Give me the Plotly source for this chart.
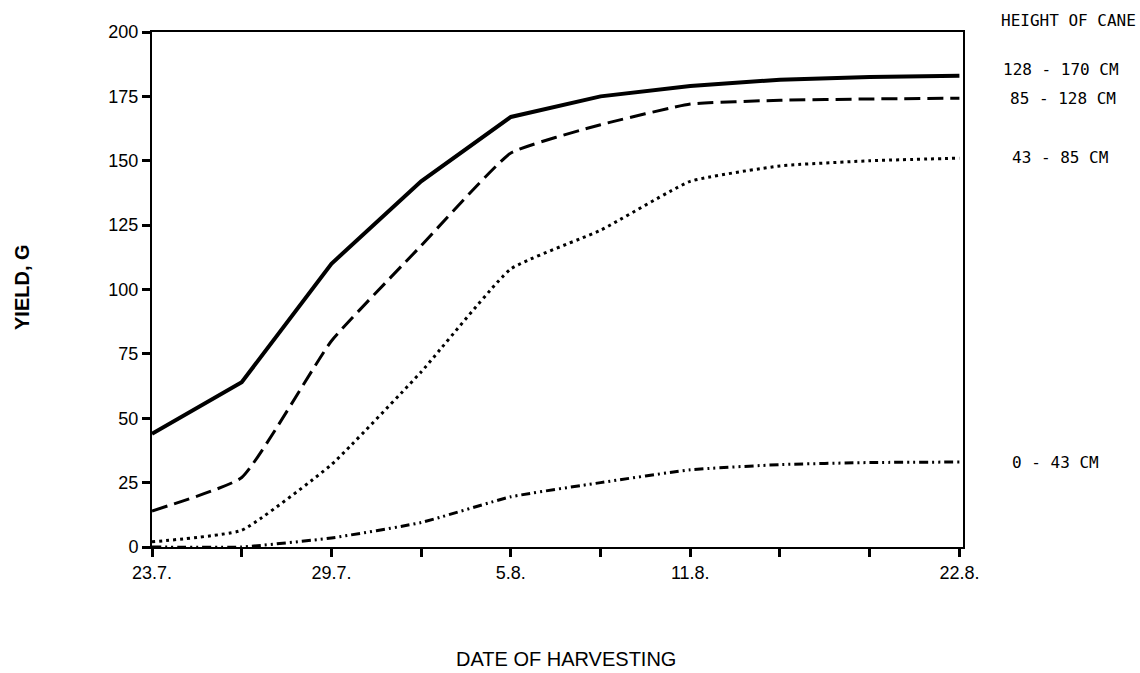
import plotly.graph_objects as go

# Harvest dates (evenly spaced sampling positions) and labelled ticks
positions = list(range(10))
tick_labels = ["23.7.", "", "29.7.", "", "5.8.", "", "11.8.", "", "", "22.8."]

# Yield (g) by cane-height class
yield_128_170 = [44, 64, 110, 142, 167, 175, 179, 181.5, 182.5, 183]
yield_85_128 = [14, 27, 80, 117, 153, 164, 172, 173.5, 174, 174.3]
yield_43_85 = [2, 6.5, 32, 68, 108, 123, 142, 148, 150, 151]
yield_0_43 = [0, 0, 3.5, 9.5, 19.5, 25, 30, 32, 32.8, 33]

class_labels = ["128 - 170 CM", "85 - 128 CM", "43 - 85 CM", "0 - 43 CM"]

W, H = 1140, 673
L, R, T, B = 152, 177, 32, 126
PW, PH = W - L - R, H - T - B


def px(x):
    return (x - L) / PW


def py(y):
    return (H - B - y) / PH


fig = go.Figure()

styles = [
    (yield_128_170, dict(width=4, dash="solid"), "linear"),
    (yield_85_128, dict(width=3, dash="16px,7px"), "spline"),
    (yield_43_85, dict(width=3, dash="3px,4px"), "spline"),
    (yield_0_43, dict(width=3, dash="9px,4px,2px,4px,2px,4px"), "spline"),
]
for (vals, line, shape), name in zip(styles, class_labels):
    fig.add_trace(go.Scatter(
        x=positions, y=vals, mode="lines", name=name,
        line=dict(color="black", shape=shape, smoothing=0.4, **line),
        showlegend=False, cliponaxis=False,
    ))

tick_font = dict(family="Liberation Sans, Arial, sans-serif", size=18, color="black")

fig.update_xaxes(
    range=[0, 9.04], tickmode="array", tickvals=positions, ticktext=tick_labels,
    ticks="outside", ticklen=8, tickwidth=3, tickcolor="black",
    showline=True, linecolor="black", linewidth=2, mirror=True,
    showgrid=False, zeroline=False, tickfont=tick_font,
)
fig.update_yaxes(
    range=[0, 200], tickvals=[0, 25, 50, 75, 100, 125, 150, 175, 200],
    ticks="outside", ticklen=8, tickwidth=3, tickcolor="black",
    showline=True, linecolor="black", linewidth=2, mirror=True,
    showgrid=False, zeroline=False, tickfont=tick_font,
)

mono = dict(family="DejaVu Sans Mono, Liberation Mono, monospace", size=16, color="black")
label_pos = [
    ("HEIGHT OF CANE", 999, 21),
    ("128 - 170 CM", 1001, 69),
    ("85 - 128 CM", 1008, 98),
    ("43 - 85 CM", 1010, 157),
    ("0 - 43 CM", 1010, 463),
]
annotations = []
for text, x, y in label_pos:
    annotations.append(dict(
        text=text, x=px(x), y=py(y), xref="paper", yref="paper",
        xanchor="left", yanchor="middle", showarrow=False, font=mono,
    ))

title_font = dict(family="Liberation Sans, Arial, sans-serif", size=20, color="black")
annotations.append(dict(
    text="<b>YIELD, G</b>", x=px(22), y=py(287), xref="paper", yref="paper",
    xanchor="center", yanchor="middle", textangle=-90, showarrow=False,
    font=title_font,
))
annotations.append(dict(
    text="DATE OF HARVESTING", x=px(566), y=py(659), xref="paper", yref="paper",
    xanchor="center", yanchor="middle", showarrow=False, font=title_font,
))

fig.update_layout(
    width=W, height=H,
    margin=dict(l=L, r=R, t=T, b=B),
    plot_bgcolor="white", paper_bgcolor="white",
    annotations=annotations,
)

fig.write_html("out.html")
